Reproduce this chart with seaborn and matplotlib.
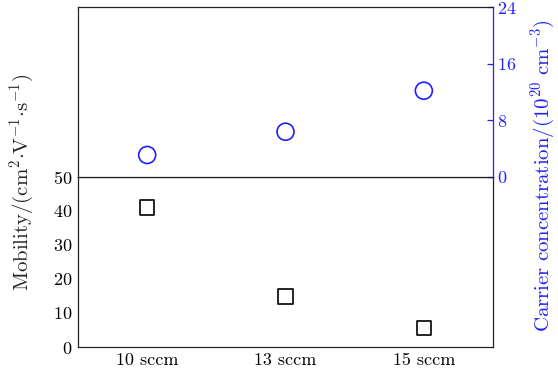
import matplotlib
matplotlib.use("Agg")
import matplotlib.pyplot as plt
import seaborn as sns
import pandas as pd

# values
flow = ["10 sccm", "13 sccm", "15 sccm"]
mobility = [41.0, 14.8, 5.6]          # cm^2 V^-1 s^-1
carrier = [3.07, 6.36, 12.16]         # 10^20 cm^-3

blue = "#1f1fff"

sns.set_style("white")
plt.rcParams["font.family"] = ["cmr10", "DejaVu Serif"]
plt.rcParams["mathtext.fontset"] = "cm"
plt.rcParams["axes.formatter.use_mathtext"] = True
plt.rcParams["font.size"] = 13

df = pd.DataFrame({"flow": flow, "mobility": mobility, "carrier": carrier})

fig = plt.figure(figsize=(5.58, 3.76), dpi=100)
left, right = 78 / 558, 493 / 558
y_bot, y_mid, y_top = 1 - 347 / 376, 1 - 176.7 / 376, 1 - 7 / 376
ax_b = fig.add_axes([left, y_bot, right - left, y_mid - y_bot])
ax_t = fig.add_axes([left, y_mid, right - left, y_top - y_mid], sharex=ax_b)

# bottom panel: mobility
sns.scatterplot(data=df, x="flow", y="mobility", ax=ax_b, marker="s", s=110,
                facecolor="none", edgecolor="black", linewidth=1.2)
ax_b.set_xlim(-0.5, 2.5)
ax_b.set_ylim(0, 50)
ax_b.set_yticks([0, 10, 20, 30, 40, 50])
ax_b.set_xlabel("")
ax_b.set_ylabel("")
ax_b.tick_params(direction="in", length=4, width=0.9, colors="black",
                 labelsize=13, top=False, right=False, pad=4)
for sp in ax_b.spines.values():
    sp.set_color("#222222")
    sp.set_linewidth(0.9)

# top panel: carrier concentration
sns.scatterplot(data=df, x="flow", y="carrier", ax=ax_t, marker="o", s=150,
                facecolor="none", edgecolor=blue, linewidth=1.2)
ax_t.set_ylim(0, 24)
ax_t.set_yticks([0, 8, 16, 24])
ax_t.yaxis.tick_right()
ax_t.set_xlabel("")
ax_t.set_ylabel("")
ax_t.tick_params(axis="x", direction="in", length=4, width=0.9,
                 labelbottom=False, top=False)
ax_t.tick_params(axis="y", direction="in", length=4, width=0.9, colors=blue,
                 labelsize=13, left=False, right=True, pad=3)
for sp in ax_t.spines.values():
    sp.set_color("#222222")
    sp.set_linewidth(0.9)
ax_t.spines["right"].set_color(blue)

fig.text(22 / 558, 1 - 182 / 376,
         r"$\mathrm{Mobility/(cm^2{\cdot}V^{-1}{\cdot}s^{-1})}$",
         rotation=90, ha="center", va="center", fontsize=15)
fig.text(543 / 558, 1 - 176 / 376,
         r"$\mathrm{Carrier\ concentration/(10^{20}\ cm^{-3})}$",
         rotation=90, ha="center", va="center", fontsize=15, color=blue)

fig.savefig("out.png", dpi=100)
